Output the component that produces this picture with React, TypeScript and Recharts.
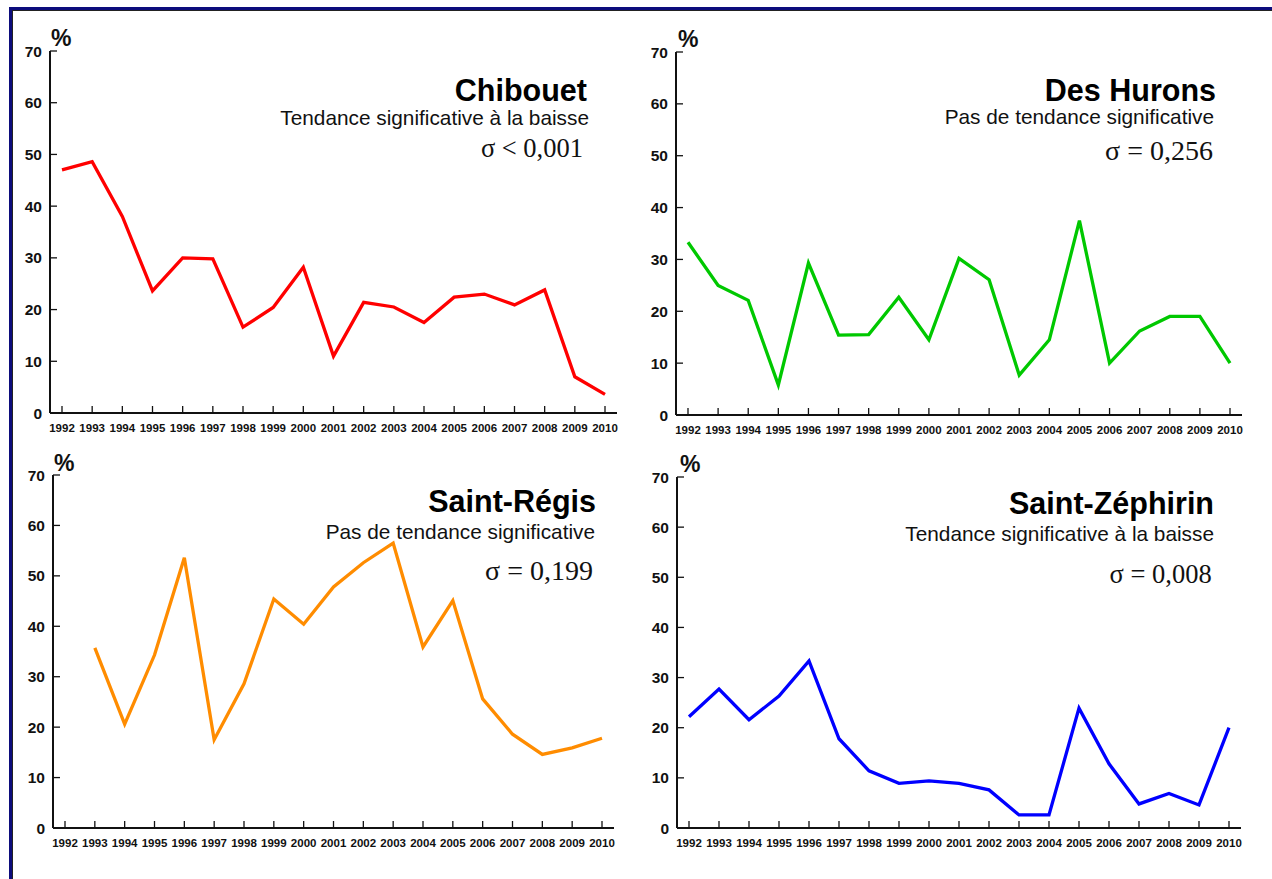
import React from 'react';
import { LineChart, Line, XAxis, YAxis } from 'recharts';

const years = ['1992', '1993', '1994', '1995', '1996', '1997', '1998', '1999', '2000', '2001', '2002', '2003', '2004', '2005', '2006', '2007', '2008', '2009', '2010'];
const yTicks = [0, 10, 20, 30, 40, 50, 60, 70];

const chibouet = [47.0, 48.6, 38.0, 23.6, 30.0, 29.8, 16.6, 20.4, 28.2, 11.0, 21.4, 20.5, 17.5, 22.4, 23.0, 20.9, 23.8, 7.0, 3.6];
const desHurons = [33.3, 25.0, 22.1, 5.8, 29.3, 15.4, 15.5, 22.7, 14.5, 30.2, 26.1, 7.7, 14.5, 37.5, 10.0, 16.2, 19.0, 19.0, 10.0];
const saintRegis = [null, 35.7, 20.6, 34.3, 53.6, 17.5, 28.6, 45.4, 40.4, 47.8, 52.6, 56.5, 35.9, 45.1, 25.6, 18.6, 14.6, 15.9, 17.8];
const saintZephirin = [22.2, 27.7, 21.6, 26.3, 33.3, 17.8, 11.4, 8.9, 9.4, 8.9, 7.6, 2.6, 2.6, 23.9, 12.8, 4.8, 6.9, 4.6, 20.0];

const titles = ['Chibouet', 'Des Hurons', 'Saint-Régis', 'Saint-Zéphirin'];
const subtitles = ['Tendance significative à la baisse', 'Pas de tendance significative', 'Pas de tendance significative', 'Tendance significative à la baisse'];
const sigmas = ['σ < 0,001', 'σ = 0,256', 'σ = 0,199', 'σ = 0,008'];
const seriesList = [chibouet, desHurons, saintRegis, saintZephirin];
const colors = ['#ff0000', '#00c800', '#ff8c00', '#0000ff'];

const SANS = "'Liberation Sans', Arial, Helvetica, sans-serif";
const SERIF = "'Liberation Serif', 'Times New Roman', serif";

// layout per panel (page pixel coordinates)
const panels = [
  { pl: 50, pt: 51, pr: 617, pb: 413, tR: 587, tB: 100.7, sR: 589, sB: 124.5, gR: 583, gB: 157, gS: 26.5, pX: 51, pY: 46 },
  { pl: 676, pt: 52, pr: 1242, pb: 415, tR: 1216, tB: 100.7, sR: 1214, sB: 124.3, gR: 1213, gB: 160, gS: 28, pX: 678, pY: 47 },
  { pl: 53, pt: 475, pr: 614, pb: 828, tR: 596, tB: 512.3, sR: 595, sB: 539.3, gR: 593, gB: 580, gS: 28, pX: 54, pY: 471 },
  { pl: 677, pt: 477, pr: 1241, pb: 828, tR: 1214, tB: 514, sR: 1214, sB: 541, gR: 1211.7, gB: 582.7, gS: 26.5, pX: 680, pY: 472 },
];

const XTick = (props: any) => {
  const { x, y, payload } = props;
  return (
    <g>
      <line x1={x} y1={y} x2={x} y2={y - 7} stroke="#111" strokeWidth={1.3} />
      <text x={x} y={y + 19} textAnchor="middle" fontFamily={SANS} fontWeight="bold" fontSize={11.5} fill="#111">
        {payload.value}
      </text>
    </g>
  );
};

const YTick = (props: any) => {
  const { x, y, payload } = props;
  return (
    <g>
      <line x1={x} y1={y} x2={x + 7} y2={y} stroke="#111" strokeWidth={1.3} />
      <text x={x - 8} y={y + 5.5} textAnchor="end" fontFamily={SANS} fontWeight="bold" fontSize={15.5} fill="#111">
        {payload.value}
      </text>
    </g>
  );
};

function Panel({ idx }: { idx: number }) {
  const p = panels[idx];
  const values = seriesList[idx];
  const data = years.map((year, i) => ({ year, value: values[i] }));
  const plotW = p.pr - p.pl;
  const plotH = p.pb - p.pt;
  const axisStyle = { stroke: '#111', strokeWidth: 2 };
  return (
    <div style={{ position: 'absolute', left: p.pl - 50, top: p.pt - 30 }}>
      <LineChart width={plotW + 60} height={plotH + 60} data={data} margin={{ top: 30, right: 10, bottom: 0, left: 0 }}>
        <XAxis
          dataKey="year"
          interval={0}
          padding={{ left: 12, right: 12 }}
          height={30}
          tickSize={0}
          tickMargin={0}
          tickLine={false}
          axisLine={axisStyle}
          tick={<XTick />}
        />
        <XAxis
          xAxisId="top"
          dataKey="year"
          orientation="top"
          height={0}
          padding={{ left: 12, right: 12 }}
          tick={false}
          tickLine={false}
          axisLine={axisStyle}
        />
        <YAxis
          domain={[0, 70]}
          ticks={yTicks}
          interval={0}
          width={50}
          tickSize={0}
          tickMargin={0}
          tickLine={false}
          axisLine={axisStyle}
          tick={<YTick />}
        />
        <YAxis
          yAxisId="right"
          orientation="right"
          domain={[0, 70]}
          width={0}
          tick={false}
          tickLine={false}
          axisLine={axisStyle}
        />
        <Line
          type="linear"
          dataKey="value"
          stroke={colors[idx]}
          strokeWidth={3.3}
          dot={false}
          activeDot={false}
          isAnimationActive={false}
        />
      </LineChart>
    </div>
  );
}

export default function App() {
  return (
    <div style={{ position: 'absolute', left: 0, top: 0, width: 1272, height: 879, background: '#fff', overflow: 'hidden' }}>
      <div style={{ position: 'absolute', left: 9, top: 7, width: 1263, height: 3, background: '#0c0c7c' }} />
      <div style={{ position: 'absolute', left: 9, top: 10, width: 1263, height: 1, background: '#222' }} />
      <div style={{ position: 'absolute', left: 9, top: 7, width: 3, height: 872, background: '#0c0c7c' }} />
      <div style={{ position: 'absolute', left: 12, top: 10, width: 1, height: 869, background: '#222' }} />
      {panels.map((_, i) => (
        <Panel key={i} idx={i} />
      ))}
      <svg width={1272} height={879} style={{ position: 'absolute', left: 0, top: 0, pointerEvents: 'none' }}>
        {panels.map((p, i) => (
          <g key={i}>
            <text x={p.pX} y={p.pY} fontFamily={SANS} fontWeight="bold" fontSize={23} fill="#111">%</text>
            <text x={p.tR} y={p.tB} textAnchor="end" fontFamily={SANS} fontWeight="bold" fontSize={30.5} fill="#000">{titles[i]}</text>
            <text x={p.sR} y={p.sB} textAnchor="end" fontFamily={SANS} fontSize={20.8} fill="#111">{subtitles[i]}</text>
            <text x={p.gR} y={p.gB} textAnchor="end" fontFamily={SERIF} fontSize={p.gS} fill="#111">{sigmas[i]}</text>
          </g>
        ))}
      </svg>
    </div>
  );
}
